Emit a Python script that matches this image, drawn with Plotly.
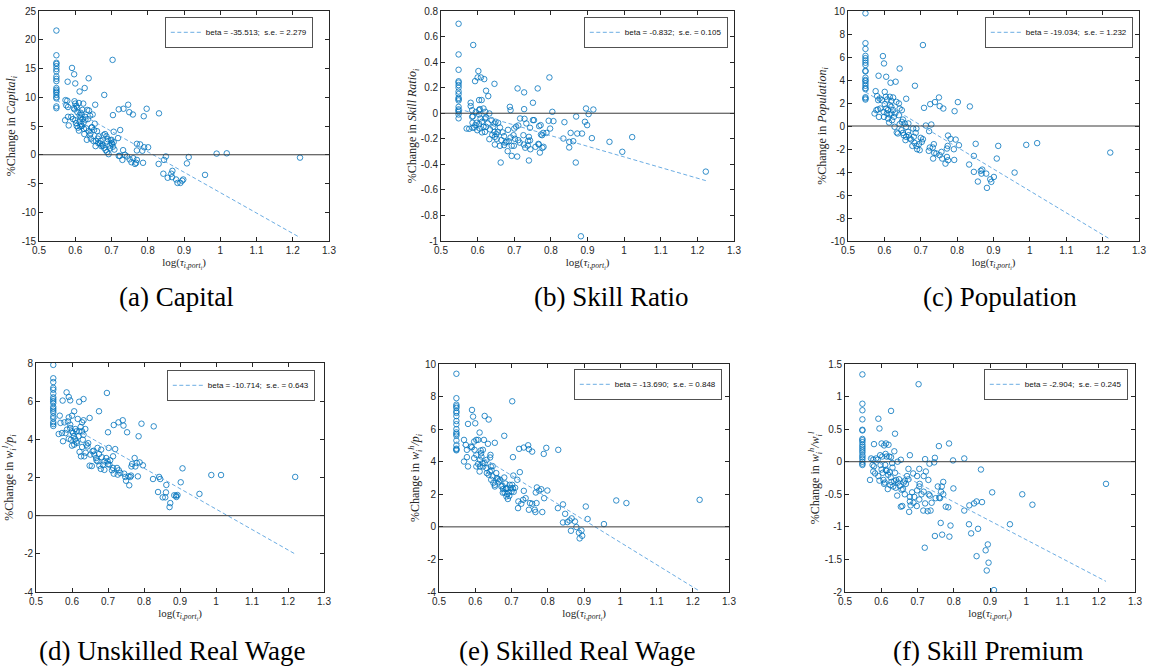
import plotly.graph_objects as go
from plotly.subplots import make_subplots

# ---------------- data ----------------
cap_x = [0.548, 0.548, 0.548, 0.548, 0.548, 0.548, 0.548, 0.548, 0.548, 0.548,
         0.548, 0.548, 0.548, 0.548, 0.548, 0.548, 0.548, 0.548, 0.548,
         0.591, 0.597, 0.579, 0.600, 0.612, 0.626, 0.637, 0.703, 0.680, 0.655,
         0.720, 0.733, 0.746, 0.749, 0.759, 0.789, 0.797, 0.831, 0.704, 0.706,
         0.724, 0.718, 0.770, 0.779, 0.790, 0.801, 0.785, 0.770, 0.732, 0.720,
         0.723, 0.737, 0.730, 0.743, 0.750, 0.755, 0.760, 0.765, 0.768, 0.770,
         0.787, 0.830, 0.845, 0.850, 0.843, 0.855, 0.865, 0.868, 0.867, 0.878,
         0.882, 0.890, 0.895, 0.898, 0.908, 0.913, 0.958, 0.990, 1.018, 1.220,
         0.573, 0.578, 0.575, 0.580, 0.572, 0.580, 0.582, 0.589, 0.596, 0.598,
         0.600, 0.603, 0.605, 0.610, 0.598, 0.594, 0.600, 0.602, 0.604, 0.608,
         0.610, 0.612, 0.615, 0.618, 0.620, 0.622, 0.615, 0.616, 0.618, 0.620,
         0.623, 0.625, 0.628, 0.630, 0.632, 0.633, 0.635, 0.637, 0.638, 0.640,
         0.641, 0.643, 0.645, 0.646, 0.648, 0.650, 0.652, 0.654, 0.656, 0.657,
         0.660, 0.662, 0.665, 0.668, 0.670, 0.672, 0.674, 0.676, 0.678, 0.680,
         0.682, 0.684, 0.686, 0.688, 0.690, 0.692, 0.695, 0.698, 0.700, 0.702,
         0.704, 0.706, 0.708, 0.612, 0.627, 0.606, 0.614, 0.624, 0.642, 0.664,
         0.688, 0.696, 0.700]
cap_y = [21.6, 17.3, 16.0, 15.8, 15.4, 14.9, 14.5, 13.6, 13.2, 12.8,
         11.6, 11.3, 11.0, 10.8, 10.4, 10.0, 9.8, 8.4, 8.1,
         15.1, 14.0, 12.7, 12.4, 11.0, 11.6, 13.3, 16.5, 10.4, 8.7,
         7.9, 8.0, 8.7, 7.4, 7.0, 6.7, 8.0, 7.2, 6.9, 4.0,
         4.3, 2.9, 1.9, 1.8, 1.3, 1.3, 0.7, 0.75, 0.8, -0.2,
         -0.2, 0.0, -0.9, -0.3, -0.8, -1.3, -0.6, -1.6, -1.4, -0.9,
         -1.4, -1.6, -0.9, -0.3, -3.3, -4.0, -3.3, -2.8, -3.9, -4.3,
         -4.9, -4.9, -4.5, -4.3, -1.5, -0.4, -3.5, 0.2, 0.25, -0.5,
         9.5, 9.4, 8.6, 8.3, 6.0, 6.6, 5.1, 6.6, 8.1, 9.3,
         8.9, 8.5, 8.2, 9.0, 7.9, 6.2, 6.0, 5.5, 5.0, 4.7,
         4.2, 5.8, 6.5, 7.0, 7.8, 8.9, 7.3, 5.3, 5.0, 6.2,
         5.6, 3.6, 6.1, 4.6, 2.6, 7.8, 6.2, 4.1, 7.7, 3.4,
         6.8, 2.8, 4.7, 4.8, 7.0, 2.4, 4.3, 5.4, 1.5, 2.4,
         4.1, 2.8, 3.2, 2.0, 2.4, 1.5, 1.8, 1.6, 3.4, 1.2,
         3.6, 0.8, 3.2, 0.5, 2.7, 0.1, 1.6, 2.5, 2.0, 1.9,
         1.4, 2.2, 0.9, 6.9, 6.6, 7.4, 4.9, 4.5, 3.7, 2.0,
         2.3, 1.1, 2.6]

skill_x = [0.548, 0.548, 0.548, 0.548, 0.548, 0.548, 0.548, 0.548, 0.548,
           0.548, 0.548, 0.548, 0.548, 0.548, 0.548, 0.548, 0.548, 0.548,
           0.588, 0.602, 0.593, 0.600, 0.609, 0.618, 0.623, 0.629, 0.646, 0.709,
           0.727, 0.764, 0.796, 0.751, 0.727, 0.688, 0.690, 0.804, 0.807, 0.794,
           0.837, 0.896, 0.916, 0.903, 0.869, 0.893, 0.899, 0.798, 0.772, 0.768,
           0.751, 0.754, 0.743, 0.728, 0.733, 0.716, 0.711, 0.705, 0.854, 0.872,
           0.885, 0.834, 0.850, 0.861, 0.850, 0.912, 0.960, 0.995, 1.022, 1.223,
           0.868, 0.882, 0.663, 0.740, 0.708, 0.693, 0.682, 0.744, 0.758, 0.777,
           0.780, 0.770, 0.766, 0.737, 0.767, 0.726, 0.738, 0.743, 0.788, 0.779,
           0.776, 0.773, 0.740, 0.725, 0.698, 0.702, 0.711, 0.679, 0.685, 0.672,
           0.693, 0.699, 0.661, 0.647, 0.632, 0.647, 0.651, 0.646, 0.655, 0.661,
           0.672, 0.643, 0.646, 0.638, 0.649, 0.656, 0.634, 0.623, 0.628, 0.623,
           0.620, 0.612, 0.616, 0.620, 0.606, 0.604, 0.599, 0.591, 0.594, 0.604,
           0.606, 0.611, 0.604, 0.616, 0.621, 0.632, 0.595, 0.587, 0.581, 0.581,
           0.585, 0.577, 0.585, 0.586, 0.586, 0.597, 0.608, 0.604, 0.570, 0.612,
           0.665, 0.676, 0.690, 0.700, 0.715, 0.730, 0.640, 0.652, 0.668, 0.683]
skill_y = [0.70, 0.46, 0.34, 0.25, 0.24, 0.22, 0.20, 0.17, 0.15,
           0.12, 0.11, 0.10, 0.05, 0.03, 0.02, 0.01, -0.01, -0.04,
           0.534, 0.330, 0.251, 0.280, 0.280, 0.267, 0.176, 0.134, 0.230, 0.194,
           0.163, 0.194, 0.280, 0.082, 0.032, 0.050, 0.024, 0.011, -0.062, -0.059,
           -0.070, 0.037, 0.029, -0.007, -0.026, -0.067, -0.093, -0.120, -0.093, -0.101,
           -0.054, -0.054, -0.114, -0.044, -0.080, -0.041, -0.096, -0.105, -0.154, -0.159,
           -0.159, -0.198, -0.224, -0.219, -0.268, -0.195, -0.224, -0.302, -0.187, -0.457,
           -0.386, -0.963, -0.386, -0.370, -0.339, -0.334, -0.297, -0.282, -0.263, -0.271,
           -0.263, -0.308, -0.240, -0.253, -0.245, -0.245, -0.216, -0.213, -0.154, -0.154,
           -0.172, -0.167, -0.185, -0.172, -0.172, -0.200, -0.211, -0.224, -0.219, -0.250,
           -0.255, -0.255, -0.255, -0.245, -0.203, -0.185, -0.164, -0.146, -0.146, -0.112,
           -0.180, -0.106, -0.080, -0.054, -0.067, -0.075, -0.127, -0.106, -0.080, -0.033,
           -0.041, -0.067, -0.106, -0.146, -0.120, -0.086, -0.133, -0.112, -0.093, 0.024,
           0.032, 0.103, 0.103, 0.037, 0.011, -0.002, 0.009, -0.023, 0.082, 0.056,
           0.024, -0.122, -0.028, -0.075, -0.114, -0.075, -0.041, -0.010, -0.120, -0.150,
           -0.210, -0.230, -0.190, -0.120, -0.230, -0.270, -0.170, -0.200, -0.150, -0.130]

pop_x = [0.548, 0.548, 0.548, 0.548, 0.548, 0.548, 0.548, 0.548, 0.548, 0.548,
         0.548, 0.548, 0.548, 0.548, 0.548, 0.548, 0.548, 0.548, 0.548, 0.548,
         0.596, 0.599, 0.584, 0.605, 0.642, 0.617, 0.631, 0.684, 0.706, 0.660,
         0.576, 0.601, 0.750, 0.802, 0.739, 0.726, 0.752, 0.762, 0.835, 0.793,
         0.709, 0.714, 0.729, 0.723, 0.775, 0.782, 0.796, 0.774, 0.805, 0.851,
         0.913, 0.990, 1.020, 1.221, 0.791, 0.792, 0.846, 0.909, 0.833, 0.846,
         0.958, 0.857, 0.865, 0.869, 0.867, 0.880, 0.882, 0.891, 0.894, 0.901,
         0.772, 0.775, 0.772, 0.768, 0.757, 0.759, 0.752, 0.743, 0.734, 0.737,
         0.736, 0.725, 0.722, 0.733, 0.706, 0.703, 0.700, 0.695, 0.697, 0.690,
         0.688, 0.683, 0.681, 0.686, 0.679, 0.688, 0.674, 0.677, 0.670, 0.665,
         0.667, 0.660, 0.658, 0.651, 0.653, 0.647, 0.648, 0.651, 0.642, 0.637,
         0.634, 0.640, 0.642, 0.648, 0.633, 0.640, 0.628, 0.624, 0.624, 0.626,
         0.619, 0.619, 0.619, 0.615, 0.615, 0.610, 0.613, 0.607, 0.610, 0.605,
         0.604, 0.608, 0.601, 0.598, 0.599, 0.593, 0.587, 0.583, 0.589, 0.578,
         0.582, 0.585, 0.573, 0.580, 0.656, 0.660, 0.666, 0.614, 0.621, 0.630]
pop_y = [9.8, 7.2, 6.7, 6.1, 5.9, 5.7, 5.5, 5.3, 4.8, 4.75,
         4.2, 4.0, 3.9, 3.7, 3.5, 3.3, 3.2, 2.5, 2.4, 2.3,
         6.08, 5.44, 4.37, 4.28, 5.00, 3.76, 3.85, 3.50, 7.04, 2.37,
         3.03, 2.97, 2.48, 2.08, 2.08, 1.90, 1.73, 1.52, 1.70, 1.29,
         1.58, 0.04, 0.13, -0.45, -0.83, -1.12, -1.18, -1.73, -1.67, -1.55,
         -1.73, -1.64, -1.49, -2.31, -2.02, -2.95, -2.60, -2.83, -3.35, -3.99,
         -4.05, -4.83, -3.90, -3.79, -4.14, -4.14, -5.38, -4.63, -4.86, -4.43,
         -1.96, -2.98, -2.69, -3.27, -2.25, -2.83, -2.54, -2.39, -2.83, -2.34,
         -1.58, -1.87, -2.16, -1.87, -1.15, -1.38, -1.03, -1.58, -2.10, -2.02,
         -1.73, -1.47, -0.94, -0.60, -0.22, -0.22, -1.18, -1.73, -1.09, -0.51,
         -0.80, -0.94, -1.23, -0.60, -0.80, -0.36, 0.36, 0.56, 0.16, -0.65,
         -0.56, 0.94, 1.52, 1.38, 2.10, 1.96, -0.07, 1.38, 2.48, 0.79,
         1.09, 1.67, 2.19, 2.54, 1.81, 0.65, 0.30, 1.09, 1.38, 1.52,
         2.54, 2.31, 1.90, 1.23, 0.79, 2.25, 2.39, 2.25, 1.52, 1.38,
         1.44, 0.79, 1.09, 2.60, 0.22, -0.07, 0.22, 1.00, 0.50, 1.10]

unsk_x = [0.548, 0.548, 0.548, 0.548, 0.548, 0.548, 0.548, 0.548, 0.548, 0.548,
          0.548, 0.548, 0.548, 0.548, 0.548, 0.548, 0.548, 0.548, 0.548,
          0.585, 0.591, 0.595, 0.574, 0.620, 0.632, 0.697, 0.675, 0.649, 0.716,
          0.729, 0.741, 0.743, 0.753, 0.793, 0.785, 0.827, 0.700, 0.702, 0.720,
          0.714, 0.774, 0.767, 0.780, 0.788, 0.797, 0.765, 0.776, 0.907, 0.987,
          1.014, 1.220, 0.902, 0.954, 0.825, 0.842, 0.845, 0.862, 0.839, 0.861,
          0.852, 0.859, 0.873, 0.871, 0.884, 0.889, 0.893, 0.890, 0.783, 0.759,
          0.750, 0.748, 0.757, 0.762, 0.764, 0.745, 0.734, 0.727, 0.730, 0.725,
          0.716, 0.714, 0.711, 0.704, 0.699, 0.695, 0.690, 0.686, 0.680, 0.676,
          0.671, 0.667, 0.662, 0.675, 0.681, 0.671, 0.683, 0.651, 0.649, 0.657,
          0.643, 0.640, 0.634, 0.625, 0.628, 0.630, 0.621, 0.632, 0.628, 0.637,
          0.628, 0.632, 0.616, 0.624, 0.612, 0.609, 0.606, 0.600, 0.591, 0.589,
          0.595, 0.595, 0.600, 0.603, 0.605, 0.597, 0.591, 0.609, 0.612, 0.600,
          0.606, 0.614, 0.618, 0.620, 0.586, 0.582, 0.579, 0.566, 0.568, 0.563,
          0.572, 0.575, 0.645, 0.660, 0.668, 0.690, 0.700, 0.706, 0.655, 0.638]
unsk_y = [7.9, 7.2, 7.0, 6.7, 6.6, 6.4, 6.2, 6.1, 6.0, 5.9,
          5.7, 5.6, 5.5, 5.4, 5.2, 5.1, 4.9, 4.8, 4.7,
          6.46, 6.22, 6.04, 6.03, 5.97, 6.11, 6.43, 5.47, 5.12, 4.75,
          4.89, 5.00, 4.72, 4.37, 4.82, 4.16, 4.68, 4.37, 3.55, 3.49,
          3.11, 3.02, 2.71, 2.76, 2.79, 2.64, 2.58, 2.58, 2.48, 2.13,
          2.13, 2.03, 1.75, 1.14, 1.92, 2.03, 1.92, 1.61, 1.24, 1.22,
          0.96, 0.96, 0.66, 0.45, 1.07, 1.05, 1.08, 0.98, 2.06, 1.59,
          1.83, 2.03, 2.06, 2.03, 2.10, 2.20, 2.24, 2.15, 2.38, 2.50,
          2.20, 2.50, 2.38, 2.67, 2.85, 3.02, 2.85, 2.67, 2.45, 2.62,
          2.85, 3.02, 3.20, 3.23, 3.46, 3.55, 3.06, 3.20, 2.62, 3.37,
          3.63, 3.72, 3.11, 3.11, 3.60, 3.98, 3.34, 4.24, 4.42, 4.54,
          4.89, 5.00, 5.07, 4.65, 4.42, 4.54, 5.47, 5.24, 5.15, 4.94,
          4.77, 4.59, 4.42, 4.33, 4.16, 3.98, 4.03, 4.01, 3.88, 3.67,
          3.72, 3.81, 4.16, 4.42, 4.51, 4.33, 4.89, 5.24, 4.86, 4.28,
          4.33, 3.90, 3.80, 3.40, 2.90, 2.40, 2.70, 2.90, 2.60, 3.30]

skd_x = [0.548, 0.548, 0.548, 0.548, 0.548, 0.548, 0.548, 0.548, 0.548, 0.548,
         0.548, 0.548, 0.548, 0.548, 0.548, 0.548, 0.548, 0.548, 0.548,
         0.591, 0.594, 0.600, 0.580, 0.626, 0.637, 0.702, 0.680, 0.612, 0.654,
         0.721, 0.734, 0.746, 0.748, 0.757, 0.796, 0.789, 0.829, 0.704, 0.705,
         0.723, 0.716, 0.770, 0.776, 0.782, 0.799, 0.767, 0.790, 0.769, 0.785,
         0.764, 0.766, 0.757, 0.751, 0.748, 0.739, 0.732, 0.727, 0.719, 0.718,
         0.734, 0.842, 0.828, 0.842, 0.848, 0.854, 0.860, 0.866, 0.864, 0.875,
         0.879, 0.886, 0.888, 0.893, 0.895, 0.905, 0.910, 0.955, 0.989, 1.017,
         1.219, 0.569, 0.574, 0.577, 0.569, 0.577, 0.580, 0.588, 0.591, 0.597,
         0.603, 0.608, 0.598, 0.603, 0.597, 0.603, 0.608, 0.612, 0.613, 0.617,
         0.613, 0.621, 0.615, 0.616, 0.624, 0.642, 0.631, 0.626, 0.631, 0.622,
         0.632, 0.635, 0.641, 0.643, 0.640, 0.637, 0.645, 0.648, 0.644, 0.648,
         0.654, 0.654, 0.658, 0.663, 0.665, 0.669, 0.672, 0.675, 0.677, 0.680,
         0.683, 0.684, 0.681, 0.687, 0.686, 0.690, 0.688, 0.692, 0.695, 0.698,
         0.700, 0.702, 0.704, 0.706, 0.710, 0.660, 0.650, 0.620, 0.694, 0.676]
skd_y = [9.4, 7.9, 7.5, 7.4, 7.3, 7.1, 7.0, 6.8, 6.5, 6.3,
         6.0, 5.8, 5.7, 5.6, 5.3, 5.0, 4.8, 4.75, 4.7,
         7.18, 6.77, 6.36, 6.32, 6.81, 6.59, 7.71, 5.59, 5.79, 5.16,
         4.79, 4.87, 5.01, 4.77, 4.62, 4.85, 4.48, 4.73, 4.28, 3.15,
         3.36, 2.89, 2.42, 2.23, 2.31, 2.23, 2.11, 1.76, 1.46, 0.91,
         1.05, 0.91, 1.42, 1.46, 1.05, 1.76, 1.66, 1.42, 1.56, 1.15,
         2.21, 1.38, 1.15, 0.27, 0.80, 0.29, 0.39, 0.52, -0.24, 0.33,
         -0.01, -0.36, -0.71, -0.22, -0.55, 1.25, 0.48, 0.17, 1.62, 1.46,
         1.66, 5.34, 5.03, 4.73, 4.01, 4.28, 3.71, 4.93, 4.89, 5.24,
         5.34, 5.34, 4.73, 4.42, 4.22, 3.71, 3.87, 3.40, 3.71, 4.32,
         4.11, 4.73, 4.69, 4.52, 5.34, 4.42, 4.11, 3.91, 3.61, 3.71,
         3.30, 5.10, 4.26, 3.71, 3.40, 3.20, 3.47, 3.73, 2.89, 3.10,
         2.58, 2.48, 3.30, 2.93, 2.79, 2.89, 2.48, 2.52, 2.32, 3.03,
         2.66, 2.32, 2.11, 2.38, 1.87, 1.71, 2.01, 2.11, 2.58, 2.38,
         2.17, 2.58, 2.36, 2.15, 2.40, 3.00, 2.70, 3.90, 1.90, 2.10]

prem_x = [0.548, 0.548, 0.548, 0.548, 0.548, 0.548, 0.548, 0.548, 0.548, 0.548,
          0.548, 0.548, 0.548, 0.548, 0.548, 0.548, 0.548, 0.548, 0.548, 0.548,
          0.703, 0.627, 0.592, 0.595, 0.638, 0.580, 0.601, 0.613, 0.620, 0.636,
          0.787, 0.759, 0.608, 0.622, 0.615, 0.603, 0.627, 0.597, 0.586, 0.590,
          0.578, 0.572, 0.654, 0.679, 0.721, 0.748, 0.798, 0.829, 0.746, 0.733,
          0.705, 0.675, 0.875, 0.723, 0.688, 0.699, 0.717, 0.730, 0.771, 0.799,
          0.767, 0.756, 0.765, 0.771, 0.760, 0.762, 0.750, 0.734, 0.731, 0.739,
          0.717, 0.705, 0.706, 0.699, 0.711, 0.705, 0.721, 0.698, 0.689, 0.691,
          0.685, 0.679, 0.681, 0.677, 0.679, 0.716, 0.728, 0.736, 0.785, 0.778,
          0.829, 0.843, 0.856, 0.863, 0.878, 0.906, 0.989, 1.017, 1.220, 0.955,
          0.842, 0.848, 0.867, 0.764, 0.791, 0.748, 0.768, 0.788, 0.720, 0.894,
          0.888, 0.863, 0.896, 0.891, 0.911, 0.569, 0.576, 0.580, 0.578, 0.583,
          0.592, 0.595, 0.598, 0.601, 0.604, 0.606, 0.608, 0.611, 0.613, 0.618,
          0.615, 0.619, 0.623, 0.626, 0.628, 0.631, 0.633, 0.636, 0.638, 0.641,
          0.644, 0.646, 0.649, 0.651, 0.656, 0.654, 0.658, 0.662, 0.665, 0.668,
          0.671, 0.675, 0.610, 0.625, 0.640, 0.660, 0.665, 0.612, 0.630, 0.645]
prem_y = [1.34, 0.89, 0.79, 0.65, 0.49, 0.48, 0.35, 0.33, 0.30, 0.26,
          0.23, 0.20, 0.17, 0.14, 0.10, 0.07, 0.04, 0.00, -0.03, -0.05,
          1.19, 0.78, 0.66, 0.51, 0.43, 0.27, 0.28, 0.28, 0.26, 0.16,
          0.28, 0.24, 0.25, 0.08, 0.08, 0.08, 0.07, 0.10, 0.05, 0.03,
          0.03, 0.05, 0.03, 0.10, 0.04, 0.06, 0.02, 0.05, -0.01, -0.03,
          -0.11, -0.11, -0.12, -0.15, -0.18, -0.22, -0.22, -0.28, -0.31, -0.41,
          -0.38, -0.38, -0.46, -0.50, -0.55, -0.56, -0.56, -0.52, -0.50, -0.63,
          -0.46, -0.38, -0.34, -0.44, -0.50, -0.58, -0.64, -0.68, -0.63, -0.54,
          -0.47, -0.54, -0.67, -0.77, -0.61, -0.75, -0.76, -0.75, -0.70, -0.69,
          -0.75, -0.67, -0.64, -0.61, -0.62, -0.47, -0.50, -0.66, -0.34, -0.96,
          -0.96, -1.10, -1.03, -0.94, -0.98, -1.14, -1.12, -1.15, -1.32, -1.27,
          -1.36, -1.45, -1.55, -1.67, -1.97, -0.28, -0.05, -0.07, -0.15, -0.18,
          -0.22, -0.29, -0.05, -0.12, -0.17, -0.28, -0.34, -0.05, -0.13, -0.42,
          -0.14, -0.20, -0.16, -0.24, -0.31, -0.09, -0.38, -0.30, -0.17, -0.28,
          -0.52, -0.32, -0.27, -0.37, -0.43, -0.69, -0.68, -0.32, -0.29, -0.34,
          -0.22, -0.27, -0.32, -0.36, -0.40, -0.42, -0.50, 0.12, -0.02, 0.00]

betas = [-35.513, -0.832, -19.034, -10.714, -13.690, -2.904]
std_errs = [2.279, 0.105, 1.232, 0.643, 0.848, 0.245]
intercepts = [28.93, 0.490, 13.39, 11.06, 12.74, 1.706]

captions = ["(a) Capital", "(b) Skill Ratio", "(c) Population",
            "(d) Unskilled Real Wage", "(e) Skilled Real Wage", "(f) Skill Premium"]
y_titles = ["%Change in <i>Capital<sub>i</sub></i>",
            "%Change in <i>Skill Ratio<sub>i</sub></i>",
            "%Change in <i>Population<sub>i</sub></i>",
            "%Change in <i>w<sub>i</sub><sup>l</sup>/p<sub>i</sub></i>",
            "%Change in <i>w<sub>i</sub><sup>h</sup>/p<sub>i</sub></i>",
            "%Change in <i>w<sub>i</sub><sup>h</sup>/w<sub>i</sub><sup>l</sup></i>"]
x_title = "log(<i>τ<sub>i,port<sub>i</sub></sub></i>)"

x_tickvals = [0.5, 0.6, 0.7, 0.8, 0.9, 1.0, 1.1, 1.2, 1.3]
x_ticktext = ["0.5", "0.6", "0.7", "0.8", "0.9", "1", "1.1", "1.2", "1.3"]
y_tickvals = [[-15, -10, -5, 0, 5, 10, 15, 20, 25],
              [-1, -0.8, -0.6, -0.4, -0.2, 0, 0.2, 0.4, 0.6, 0.8],
              [-10, -8, -6, -4, -2, 0, 2, 4, 6, 8, 10],
              [-4, -2, 0, 2, 4, 6, 8],
              [-4, -2, 0, 2, 4, 6, 8, 10],
              [-2, -1.5, -1, -0.5, 0, 0.5, 1, 1.5]]
y_ticktext = [["-15", "-10", "-5", "0", "5", "10", "15", "20", "25"],
              ["-1", "-0.8", "-0.6", "-0.4", "-0.2", "0", "0.2", "0.4", "0.6", "0.8"],
              ["-10", "-8", "-6", "-4", "-2", "0", "2", "4", "6", "8", "10"],
              ["-4", "-2", "0", "2", "4", "6", "8"],
              ["-4", "-2", "0", "2", "4", "6", "8", "10"],
              ["-2", "-1.5", "-1", "-0.5", "0", "0.5", "1", "1.5"]]

xs = [cap_x, skill_x, pop_x, unsk_x, skd_x, prem_x]
ys = [cap_y, skill_y, pop_y, unsk_y, skd_y, prem_y]

# ---------------- layout geometry (pixels) ----------------
W, H = 1151, 667
boxes = [(39, 329, 11, 241), (441, 734, 11, 241), (848, 1139, 11, 241),
         (36, 324, 363, 592), (439, 729, 364, 592), (845, 1135, 364, 592)]
legend_corner = [(313, 17), (728, 17), (1133, 17), (315, 370), (722, 369), (1128, 369)]
caption_pos = [(176, 297), (611, 297), (1000, 297), (172, 651), (578, 651), (988, 651)]
ytitle_standoff = [3, 0, 1, 7, 2, 2]

AX = "#262626"
BLUE = "#0072BD"
FIT = "#6CADE3"

fig = make_subplots(rows=2, cols=3)

for i in range(6):
    r, c = i // 3 + 1, i % 3 + 1
    fig.add_trace(go.Scatter(
        x=xs[i], y=ys[i], mode="markers", showlegend=False,
        marker=dict(symbol="circle-open", size=5.5, color=BLUE,
                    line=dict(width=0.8, color=BLUE)),
        hoverinfo="x+y"), row=r, col=c)
    x0, x1 = min(xs[i]), max(xs[i])
    fig.add_trace(go.Scatter(
        x=[x0, x1], y=[intercepts[i] + betas[i] * x0, intercepts[i] + betas[i] * x1],
        mode="lines", line=dict(color=FIT, width=1, dash="4px,2.5px"),
        name=f"beta = {betas[i]:.3f};\u00a0 s.e. = {std_errs[i]:.3f}",
        legend="legend" if i == 0 else f"legend{i + 1}", showlegend=True),
        row=r, col=c)
    fig.add_hline(y=0, line=dict(color="#3a3a3a", width=1), row=r, col=c)

layout_upd = {}
for i in range(6):
    L, R, T, B = boxes[i]
    sfx = "" if i == 0 else str(i + 1)
    layout_upd["xaxis" + sfx] = dict(
        domain=[L / W, R / W], range=[0.5, 1.3], tickvals=x_tickvals, ticktext=x_ticktext,
        ticks="inside", ticklen=4, tickcolor=AX, showline=True, linecolor=AX, linewidth=0.8,
        mirror="ticks", showgrid=False, zeroline=False, automargin=True,
        tickfont=dict(family="Liberation Sans, Arial", size=10, color=AX),
        title=dict(text=x_title, standoff=3,
                   font=dict(family="Liberation Serif, serif", size=11, color=AX)))
    layout_upd["yaxis" + sfx] = dict(
        domain=[1 - B / H, 1 - T / H], range=[min(y_tickvals[i]), max(y_tickvals[i])],
        tickvals=y_tickvals[i], ticktext=y_ticktext[i],
        ticks="inside", ticklen=4, tickcolor=AX, showline=True, linecolor=AX, linewidth=0.8,
        mirror="ticks", showgrid=False, zeroline=False, automargin=True,
        tickfont=dict(family="Liberation Sans, Arial", size=10, color=AX),
        title=dict(text=y_titles[i], standoff=ytitle_standoff[i],
                   font=dict(family="Liberation Serif, serif", size=12, color=AX)))
    lx, ly = legend_corner[i]
    layout_upd["legend" + sfx] = dict(
        x=lx / W, y=1 - ly / H, xanchor="right", yanchor="top",
        bgcolor="white", bordercolor=AX, borderwidth=0.8,
        font=dict(family="Liberation Sans, Arial", size=8, color="#111111"),
        itemwidth=30, tracegroupgap=0)

fig.update_layout(**layout_upd)

for i in range(6):
    cx, cy = caption_pos[i]
    fig.add_annotation(text=captions[i], x=cx / W, y=1 - cy / H, xref="paper", yref="paper",
                       xanchor="center", yanchor="middle", showarrow=False,
                       font=dict(family="Liberation Serif, serif", size=27, color="black"))

fig.update_layout(width=W, height=H,
                  margin=dict(l=0, r=0, t=0, b=0, pad=0, autoexpand=False),
                  paper_bgcolor="white", plot_bgcolor="white")

fig.write_html("out.html", config={"displayModeBar": False},
               post_script="document.body.style.margin='0px';document.body.style.overflow='hidden';")
